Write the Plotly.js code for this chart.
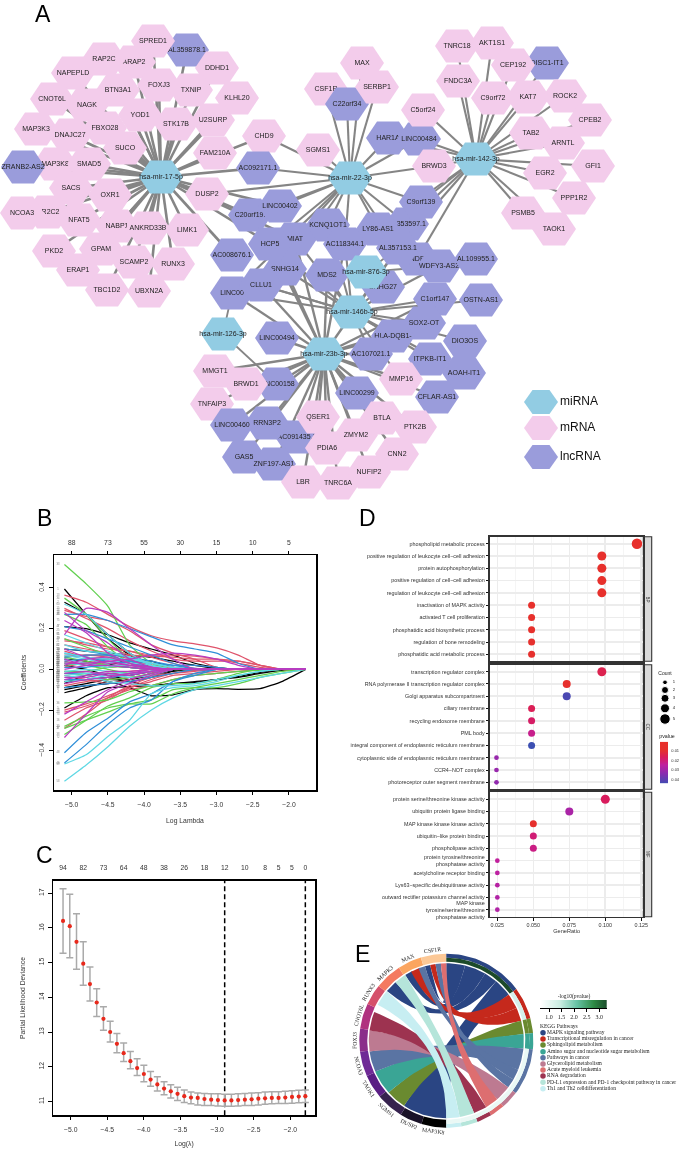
<!DOCTYPE html>
<html><head><meta charset="utf-8">
<script src="https://cdn.plot.ly/plotly-3.0.1.min.js"></script>
<style>html,body{margin:0;padding:0;background:#fff}#g{width:685px;height:1151px;filter:blur(0.3px)}</style>
</head><body><div id="g"></div>
<script>
/* ---------- A: network ---------- */
const nodeNames=["AL359878.1","ARAP2","RAP2C","NAPEPLD","SPRED1","DDHD1","FOXJ3","BTN3A1","TXNIP","KLHL20",
"CNOT6L","NAGK","YOD1","U2SURP","STK17B","MAP3K3","FBXO28","DNAJC27","SUCO","CHD9",
"FAM210A","MAP3K8","ZRANB2-AS2","SMAD5","SACS","OXR1","NR2C2","NCOA3","NFAT5","NABP1",
"ANKRD33B","LIMK1","DUSP2","PKD2","ERAP1","GPAM","TBC1D2","SCAMP2","UBXN2A","RUNX3",
"AC092171.1","SGMS1","CSF1R","C22orf34","MAX","SERBP1","HAR1A","LINC00484","C5orf24","BRWD3",
"C20orf19.","LINC00402","MIAT","KCNQ1OT1","SNHG14","HCP5","AC008676.1","LINC00xx","CLLU1","AL353597.1",
"C9orf139","LY86-AS1","AC118344.1","NDF","AL357153.1","WDFY3-AS2","AL109955.1","SNHG27","MDS2","C1orf147",
"OSTN-AS1","SOX2-OT","DIO3OS","HLA-DQB1-","AC107021.1","ITPKB-IT1","AOAH-IT1","CFLAR-AS1","MMP16","LINC00494",
"LINC00158","MMGT1","BRWD1","TNFAIP3","LINC00299","AC091435.1","RRN3P2","LINC00460","GAS5","ZNF197-AS1",
"QSER1","BTLA","PTK2B","PDIA6","ZMYM2","CNN2","TNRC6A","NUFIP2","LBR","TNRC18",
"AKT1S1","DISC1-IT1","CEP192","FNDC3A","C9orf72","KAT7","ROCK2","CPEB2","ARNTL","TAB2",
"GFI1","PPP1R2","EGR2","PSMB5","TAOK1","hsa-mir-17-5p","hsa-mir-22-3p","hsa-mir-142-3p","hsa-mir-876-3p","hsa-mir-146b-5p",
"hsa-mir-126-3p","hsa-mir-23b-3p"];
const nodeX=[187,134,104,73,153,217,159,118,191,237,
52,87,140,213,176,36,105,70,125,264,
215,55,23,89,71,110,48,22,79,117,
148,187,207,54,78,101,107,134,149,173,
258,318,326,347,362,377,388,419,423,434,
250,280,295,328,285,270,232,232,261,407,
421,378,345,417,398,439,476,383,327,435,
481,424,465,393,371,430,464,437,401,277,
277,215,246,212,357,297,267,232,244,274,
318,382,415,327,356,397,338,369,303,457,
492,547,513,458,493,528,565,590,563,531,
593,574,545,523,554,161,350,476,366,352,
223,324];
const nodeY=[50,62,59,73,41,68,85,90,90,98,
99,105,115,120,124,129,128,135,148,136,
153,164,167,164,188,195,212,213,220,226,
228,230,194,251,270,249,290,262,291,264,
168,150,89,104,63,87,138,139,110,166,
215,206,239,225,269,244,255,293,285,224,
202,229,244,259,248,266,259,287,275,299,
300,323,341,336,354,359,373,397,379,338,
384,371,384,404,393,437,423,425,457,464,
417,418,427,448,435,454,483,472,482,46,
43,63,65,81,98,97,96,120,143,133,
166,198,173,213,229,177,178,159,272,312,
334,354];
const nodeKind=["l","r","r","r","r","r","r","r","r","r",
"r","r","r","r","r","r","r","r","r","r",
"r","r","l","r","r","r","r","r","r","r",
"r","r","r","r","r","r","r","r","r","r",
"l","r","r","l","r","r","l","l","r","r",
"l","l","l","l","l","l","l","l","l","l",
"l","l","l","l","l","l","l","l","l","l",
"l","l","l","l","l","l","l","l","r","l",
"l","r","r","r","l","l","l","l","l","l",
"r","r","r","r","r","r","r","r","r","r",
"r","l","r","r","r","r","r","r","r","r",
"r","r","r","r","r","m","m","m","m","m",
"m","m"];
const targets17=["SPRED1","AL359878.1","RAP2C","ARAP2","DDHD1","NAPEPLD","BTN3A1","FOXJ3","TXNIP","KLHL20","CNOT6L","NAGK","YOD1","STK17B","U2SURP","MAP3K3","DNAJC27","FBXO28","SUCO","FAM210A","AC092171.1","ZRANB2-AS2","MAP3K8","SMAD5","SACS","OXR1","DUSP2","NCOA3","NR2C2","NFAT5","NABP1","ANKRD33B","LIMK1","PKD2","GPAM","SCAMP2","RUNX3","ERAP1","TBC1D2","UBXN2A","C20orf19.","AC008676.1","HCP5","LINC00402","MIAT","CHD9"];
const targets22=["CHD9","SGMS1","AC092171.1","CSF1R","C22orf34","SERBP1","MAX","HAR1A","LINC00484","BRWD3","C9orf139","DUSP2","LINC00402","C20orf19.","KCNQ1OT1","LY86-AS1","AL353597.1","AC118344.1","AL357153.1","MIAT","HCP5","SNHG14","LINC00xx"];
const targets142=["C5orf24","LINC00484","BRWD3","C9orf139","TNRC18","AKT1S1","CEP192","DISC1-IT1","FNDC3A","C9orf72","KAT7","ROCK2","CPEB2","TAB2","ARNTL","GFI1","EGR2","PPP1R2","PSMB5","TAOK1","AL357153.1","NDF","AL353597.1","LY86-AS1","HAR1A"];
const targets146=["MDS2","SNHG14","CLLU1","HCP5","MIAT","KCNQ1OT1","AC118344.1","AL357153.1","SNHG27","C1orf147","OSTN-AS1","SOX2-OT","HLA-DQB1-","DIO3OS","AC107021.1","ITPKB-IT1","AOAH-IT1","MMP16","WDFY3-AS2","CLLU1","LINC00xx"];
const targets23=["LINC00xx","CLLU1","SNHG14","MDS2","HCP5","MIAT","AC118344.1","LINC00494","MMGT1","BRWD1","LINC00158","TNFAIP3","LINC00299","QSER1","BTLA","PTK2B","LINC00460","RRN3P2","AC091435.1","ZMYM2","PDIA6","CNN2","GAS5","ZNF197-AS1","NUFIP2","LBR","TNRC6A","C1orf147","AC107021.1","MMP16","CFLAR-AS1","HLA-DQB1-","SOX2-OT","AL357153.1"];
const targets126=["LINC00xx","LINC00158"];
const targets876=["SNHG27","MDS2","AL357153.1","WDFY3-AS2"];
const netLegend=["miRNA","mRNA","lncRNA"];
const legendX=[541,541,541], legendY=[402,428,457];

/* ---------- B: coefficient paths ---------- */
const lamB=[-5.1,-4.8,-4.5,-4.2,-3.9,-3.6,-3.3,-3.0,-2.7,-2.4,-2.1,-1.77];
const coefBlack=[[.395,.27,.15,.07,.01],[.33,.27,.17,.08,.02],[.21,.20,.17,.13,.10,.07,.03,.01],[-.115,-.09,-.06,-.09,-.13,-.125,-.10,-.095,-.098,-.095,-.06,0],[-.19,-.13,-.09,-.085,-.08,-.07,-.065,-.05,-.04,-.02,-.005],[-.09,-.07,-.05,-.06,-.08,-.07,-.06,-.05,-.035,-.015],[-.07,-.03,-.02,-.03,-.01],[-.10,-.08,-.07,-.05,-.02,0],[.02,.0,-.03,-.05,-.03,-.005],[.1,.09,.08,.07,.06,.04,.02,.005],[-.06,-.05,-.04,-.06,-.04,-.01],[.05,.04,.02,.05,.04,.01]];
const coefRed=[[.365,.33,.27,.21,.165,.14,.125,.105,.07,.02],[.29,.26,.24,.19,.12,.08,.05,.01],[.30,.25,.20,.14,.09,.05,.04,.04,.04,.02],[-.25,-.19,-.15,-.09,-.05,-.02,-.005],[-.29,-.22,-.14,-.08,-.04,-.02],[-.20,-.17,-.13,-.09,-.06,-.03,-.02,-.01],[.15,.12,.10,.09,.07,.07,.065,.05,.03,.01],[.07,.07,.07,.07,.065,.06,.05,.05,.04,.02],[.14,.13,.11,.09,.06,.03,.005],[.12,.10,.08,.05,.02],[-.21,-.18,-.14,-.10,-.08,-.05,-.03,-.02,-.01],[-.08,-.06,-.05,-.04,-.03,-.02,-.01],[.19,.15,.11,.07,.03,.01],[.09,.06,.05,.04,.02],[.03,.03,.05,.04,.02,.01],[-.03,-.05,-.07,-.05,-.02],[.04,.02,.03,.03,.01],[-.01,-.02,-.02,-.01],[.06,.07,.06,.04,.02,.01],[.01,.03,.01,.02,.01]];
const coefGreen=[[.515,.42,.31,.12,.03],[.35,.27,.15,.05,.0],[.27,.22,.11,.03],[-.165,-.16,-.15,-.11,-.08,-.05,-.03,-.02,-.01,-.005],[-.29,-.25,-.21,-.17,-.15,-.10,-.09,-.09,-.07,-.04,-.02],[-.32,-.25,-.18,-.14,-.09,-.07,-.07,-.05,-.02],[-.28,-.23,-.19,-.17,-.17,-.12,-.09,-.07,-.05,-.03,-.01],[.15,.11,.07,.03,.0],[.03,.02,.0,-.02,-.01],[-.02,-.03,-.05,-.04,-.02],[.06,.04,.02,.01],[-.01,-.01,.01,.01],[.02,.03,.02,.01]];
const coefBlue=[[.27,.27,.24,.20,.16,.12,.10,.08,.03],[.21,.19,.15,.11,.07,.03],[-.41,-.31,-.24,-.16,-.12,-.06,-.02],[-.46,-.37,-.27,-.19,-.15,-.06,-.03],[.06,.07,.07,.06,.04,.02,.005],[-.05,-.05,-.04,-.03,-.01],[.04,.05,.05,.04,.03,.02,.02,.01],[-.09,-.08,-.07,-.06,-.04,-.02],[.10,.09,.07,.04,.01],[.01,.01,.02,.01],[-.02,-.02,-.03,-.02,-.01],[.08,.06,.04,.03,.01]];
const coefCyan=[[-.55,-.47,-.38,-.28,-.20,-.14,-.10,-.08,-.06,-.04,-.02],[-.465,-.42,-.33,-.25,-.12,-.09,-.08,-.06,-.03,-.01],[.32,.27,.17,.08,.02],[.12,.09,.08,.06,.03,.01],[.08,.06,.05,.05,.03,.01],[.03,.02,.02,.02,.01],[-.04,-.03,-.06,-.07,-.08,-.08,-.07,-.05,-.03,-.01],[.17,.13,.09,.06,.02],[-.03,-.02,-.02,-.04,-.03],[.05,.03,.01,.03,.02],[-.06,-.05,-.03,-.02,-.01],[.07,.05,.03,.05,.03,.01],[-.01,.0,-.01,-.02,-.01]];
const coefMagenta=[[.17,.30,.28,.20,.12,.05],[-.335,-.22,-.11,-.07,-.03],[-.22,-.16,-.10,-.05,-.02],[.03,.03,.04,.05,.07,.08,.07,.05,.02],[.24,.18,.08,.03],[.05,.02,.02,.01],[-.07,-.05,-.04,-.02,-.01],[.28,.19,.13,.05,.01],[.10,.06,.03,.02],[-.04,-.04,-.02,-.03,-.01],[.02,.05,.06,.03,.01],[-.02,-.01,-.03,-.02],[.0,.02,.04,.02,.01],[-.05,-.03,-.01,-.01]];
const topB=["88","73","55","30","15","10","5"], topBx=[-5,-4.5,-4,-3.5,-3,-2.5,-2];

/* ---------- C: cross-validation ---------- */
const cvLam=[-5.105,-5.013,-4.921,-4.829,-4.737,-4.645,-4.553,-4.461,-4.369,-4.277,-4.185,-4.093,-4.001,-3.909,-3.817,-3.725,-3.633,-3.541,-3.449,-3.357,-3.265,-3.173,-3.081,-2.989,-2.897,-2.805,-2.713,-2.621,-2.529,-2.437,-2.345,-2.253,-2.161,-2.069,-1.977,-1.885,-1.795];
const cvMean=[16.2,16.05,15.6,14.97,14.38,13.85,13.38,13.0,12.66,12.39,12.16,11.96,11.79,11.63,11.49,11.37,11.29,11.22,11.15,11.11,11.10,11.07,11.05,11.04,11.03,11.03,11.04,11.05,11.06,11.08,11.09,11.10,11.10,11.11,11.13,11.14,11.15];
const cvUp=[17.13,16.97,16.41,15.6,14.87,14.25,13.73,13.31,12.96,12.68,12.44,12.23,12.04,11.86,11.71,11.57,11.48,11.41,11.33,11.27,11.24,11.23,11.22,11.22,11.21,11.21,11.22,11.23,11.24,11.25,11.27,11.28,11.28,11.29,11.31,11.32,11.33];
const cvLow=[15.27,15.14,14.81,14.35,13.89,13.45,13.05,12.71,12.4,12.15,11.94,11.75,11.57,11.44,11.30,11.19,11.10,11.03,10.97,10.93,10.90,10.88,10.88,10.87,10.86,10.86,10.87,10.88,10.88,10.90,10.92,10.93,10.94,10.94,10.95,10.96,10.97];
const topC=["94","82","73","64","48","38","26","18","12","10","8","5","5","0"];
const topCidx=[0,3,6,9,12,15,18,21,24,27,30,32,34,36];
const lambdaLines=[-2.897,-1.795];

/* ---------- D: enrichment ---------- */
const bpTerms=["phospholipid metabolic process","positive regulation of leukocyte cell−cell adhesion","protein autophosphorylation","positive regulation of cell−cell adhesion","regulation of leukocyte cell−cell adhesion","inactivation of MAPK activity","activated T cell proliferation","phosphatidic acid biosynthetic process","regulation of bone remodeling","phosphatidic acid metabolic process"];
const bpRatio=[.122,.0976,.0976,.0976,.0976,.0488,.0488,.0488,.0488,.0488];
const bpCount=[5,4,4,4,4,2,2,2,2,2];
const bpP=[.006,.006,.006,.006,.006,.006,.006,.006,.007,.007];
const ccTerms=["transcription regulator complex","RNA polymerase II transcription regulator complex","Golgi apparatus subcompartment","ciliary membrane","recycling endosome membrane","PML body","integral component of endoplasmic reticulum membrane","cytoplasmic side of endoplasmic reticulum membrane","CCR4−NOT complex","photoreceptor outer segment membrane"];
const ccRatio=[.0976,.0732,.0732,.0488,.0488,.0488,.0488,.0244,.0244,.0244];
const ccCount=[4,3,3,2,2,2,2,1,1,1];
const ccP=[.014,.008,.042,.015,.017,.022,.044,.031,.031,.032];
const mfTerms=["protein serine/threonine kinase activity","ubiquitin protein ligase binding","MAP kinase kinase kinase activity","ubiquitin−like protein binding","phospholipase activity","protein tyrosine/threonine<br>phosphatase activity","acetylcholine receptor binding","Lys63−specific deubiquitinase activity","outward rectifier potassium channel activity","MAP kinase<br>tyrosine/serine/threonine<br>phosphatase activity"];
const mfRatio=[.1,.075,.05,.05,.05,.025,.025,.025,.025,.025];
const mfCount=[4,3,2,2,2,1,1,1,1,1];
const mfP=[.016,.028,.007,.019,.021,.024,.025,.026,.027,.027];
const countSize=[4.7,7,8,9,10.5];
const countLabels=["1","2","3","4","5"];
const pTicks=[.01,.02,.03,.04];
const pBar=[.001,.005,.01,.015,.02,.025,.03,.035,.04,.044];

/* ---------- E: chord ---------- */
const geneNames=["MAP3K8","DUSP2","SGMS1","TAOK1","NCOA3","FOXJ3","CNOT6L","RUNX3","MAPK3","MAX","CSF1R"];
const geneEdge=[180,196.6,211.6,230,246,262.7,278,295,309,327,343,360];
const geneColor=["#000000","#1a1228","#36224e","#5a1e84","#6f2a96","#8a2d8a","#b0327f","#d5506a","#f47a60","#fba55f","#fcc896"];
const pathNames=["MAPK signaling pathway","Transcriptional misregulation in cancer","Sphingolipid metabolism","Amino sugar and nucleotide sugar metabolism","Pathways in cancer","Glycerolipid metabolism","Acute myeloid leukemia","RNA degradation","PD-L1 expression and PD-1 checkpoint pathway in cancer","Th1 and Th2 celldifferentiation"];
const pathEdge=[0,53.6,75,85,95.7,127,139,149,159,170,180];
const pathColor=["#2a4583","#c5291c","#6a8a30","#3aa595","#5a74a3","#bd7a91","#dd6e70","#9d3350","#b5e5da","#c7eef2"];
const pathSig=["#1c4a2a","#d5f0ea","#6a8a30","#3aa595","#eaf8f5","#eaf8f5","#eaf8f5","#eaf8f5","#eaf8f5","#eaf8f5"];
/* gene arc start, gene arc end, pathway arc start, pathway arc end, pathway index */
const ribbons=[[180,213,40,53.6,0],[310,319,30,40,0],[344,348,0,14,0],[328,334,14,30,0],
[333,340,53.6,65,1],[348,352,65,75,1],[213,228,75,85,2],[228,246.5,85,95.7,3],
[246.5,262,95.7,112,4],[339,344,112,120,4],[352,356,120,127,4],[262,277.6,127,139,5],
[356,360,139,149,6],[277.6,291.7,149,159,7],[319,328,159,170,8],[297.6,309.6,170,180,9]];
const sigTicks=[1,1.5,2,2.5,3];
const sigBar=[.64,1,1.4,1.8,2.2,2.6,3,3.3];

/* ---------- styling ---------- */
const W=685,H=1151;
const SANS="Liberation Sans, Arial, sans-serif",SERIF="Liberation Serif, Times New Roman, serif";
const kindColor={m:"#92cce3",r:"#f3cceb",l:"#9a9cdb"};
const rPal={black:"#000000",red:"#df536b",green:"#61d04f",blue:"#2f8fd8",cyan:"#5fd8e4",magenta:"#b93cc0"};
const pScale=[[0,"#e9302a"],[.2,"#e5302e"],[.35,"#d91c5c"],[.55,"#c020a0"],[.75,"#8a2bb0"],[1,"#3c4fb2"]];
const sigScale=[[0,"#ffffff"],[.3,"#c8ece0"],[.55,"#66c2a4"],[.8,"#2e8b45"],[1,"#1c4a2a"]];
const dx=(a,b)=>[a/W,b/W], dy=(a,b)=>[1-b/H,1-a/H];
let data=[],ann=[],shapes=[];

const idx={};nodeNames.forEach((n,i)=>idx[n]=i);
function edges(hub,list,w){const xs=[],ys=[];list.forEach(t=>{xs.push(nodeX[idx[hub]],nodeX[idx[t]],null);ys.push(nodeY[idx[hub]],nodeY[idx[t]],null)});
 data.push({type:"scatter",mode:"lines",x:xs,y:ys,line:{color:"#858585",width:w},hoverinfo:"skip",xaxis:"x",yaxis:"y"});}
edges("hsa-mir-17-5p",targets17,2.6);edges("hsa-mir-22-3p",targets22,2.1);edges("hsa-mir-142-3p",targets142,2.1);
edges("hsa-mir-146b-5p",targets146,2.1);edges("hsa-mir-23b-3p",targets23,2.4);edges("hsa-mir-126-3p",targets126,1.8);edges("hsa-mir-876-3p",targets876,1.8);

function hex(cx,cy,w,h,color){const q=w/4;
 data.push({type:"scatter",mode:"lines",x:[cx-2*q,cx-q,cx+q,cx+2*q,cx+q,cx-q,cx-2*q],y:[cy,cy-h/2,cy-h/2,cy,cy+h/2,cy+h/2,cy],fill:"toself",fillcolor:color,line:{width:0,color:color},hoverinfo:"skip",xaxis:"x",yaxis:"y"});}
function label(x,y,t,size,color,font,pos){data.push({type:"scatter",mode:"text",x:[x],y:[y],text:[t],textposition:pos||"middle center",textfont:{size:size,color:color||"#222",family:font||SANS},hoverinfo:"skip",xaxis:"x",yaxis:"y",cliponaxis:false});}
nodeNames.forEach((n,i)=>{hex(nodeX[i],nodeY[i],44,33,kindColor[nodeKind[i]]);
 label(nodeX[i],nodeY[i],n.replace("LINC00xx","LINC00"),7,"#222");});
["m","r","l"].forEach((k,i)=>{hex(legendX[i],legendY[i],34,24,kindColor[k]);label(560,legendY[i],netLegend[i],12,"#111",SANS,"middle right");});

/* panel letters */
[["A",43,14],["B",44,518],["C",44,855],["D",367,518],["E",362,954]].forEach(p=>ann.push({xref:"x",yref:"y",x:p[1],y:p[2],text:p[0],showarrow:false,font:{size:23,family:SANS,color:"#000"}}));

/* B traces */
function pad(a){const o=a.slice();while(o.length<lamB.length)o.push(0);return o;}
let tinyN=1;
[["black",coefBlack],["red",coefRed],["green",coefGreen],["blue",coefBlue],["cyan",coefCyan],["magenta",coefMagenta]].forEach(g=>{g[1].forEach(s=>{
 data.push({type:"scatter",mode:"lines",x:lamB,y:pad(s),line:{color:rPal[g[0]],width:1.25,shape:"spline",smoothing:.5},hoverinfo:"skip",xaxis:"x2",yaxis:"y2"});
 data.push({type:"scatter",mode:"text",x:[-5.19],y:[s[0]],text:[String(tinyN++)],textfont:{size:2.6,color:"#777",family:SANS},hoverinfo:"skip",xaxis:"x2",yaxis:"y2"});
});});
data.push({type:"scatter",mode:"markers",x:topBx,y:topBx.map(()=>0),marker:{size:1,opacity:0},hoverinfo:"skip",xaxis:"x3",yaxis:"y2"});

/* C traces */
data.push({type:"scatter",mode:"lines",x:[lambdaLines[0],lambdaLines[0],null,lambdaLines[1],lambdaLines[1]],y:[10.6,17.36,null,10.6,17.36],line:{color:"#000",width:1.5,dash:"5px,3px"},hoverinfo:"skip",xaxis:"x4",yaxis:"y4"});
data.push({type:"scatter",mode:"markers",x:cvLam,y:cvMean,marker:{color:"#e8291c",size:4.2},
 error_y:{type:"data",symmetric:false,array:cvUp.map((u,i)=>u-cvMean[i]),arrayminus:cvLow.map((l,i)=>cvMean[i]-l),color:"#aaaaaa",thickness:1.5,width:3.5},hoverinfo:"skip",xaxis:"x4",yaxis:"y4"});
data.push({type:"scatter",mode:"markers",x:cvLam,y:cvMean,marker:{size:1,opacity:0},hoverinfo:"skip",xaxis:"x5",yaxis:"y4"});

/* D traces */
function dot(terms,ratio,count,p,ax,ay){data.push({type:"scatter",mode:"markers",x:ratio,y:terms,marker:{size:count.map(c=>countSize[c-1]),opacity:1,color:p,cmin:.0007,cmax:.044,colorscale:pScale,showscale:false,line:{width:0}},hoverinfo:"skip",xaxis:ax,yaxis:ay});}
dot(bpTerms,bpRatio,bpCount,bpP,"x6","y6");dot(ccTerms,ccRatio,ccCount,ccP,"x7","y7");dot(mfTerms,mfRatio,mfCount,mfP,"x8","y8");
[[536.7,661.3,"BP"],[664.7,789.3,"CC"],[792.3,916.7,"MF"]].forEach(s=>{
 shapes.push({type:"rect",xref:"x",yref:"y",x0:643.3,x1:651.7,y0:s[0],y1:s[1],fillcolor:"#d9d9d9",line:{color:"#333",width:1.1},layer:"below"});
 ann.push({xref:"x",yref:"y",x:647.5,y:(s[0]+s[1])/2,text:s[2],textangle:90,showarrow:false,font:{size:4.5,color:"#333",family:SANS}});});
label(665,673.7,"Count",5,"#222");
data.push({type:"scatter",mode:"markers",x:[665,665,665,665,665],y:[682.3,690,698.3,708.3,719],marker:{color:"#000",size:countSize,opacity:1},hoverinfo:"skip",xaxis:"x",yaxis:"y"});
[682.3,690,698.3,708.3,719].forEach((y,i)=>label(674,y,countLabels[i],4.2,"#222"));
label(667,737,"pvalue",5.3,"#222");
data.push({type:"heatmap",x:[0,1],y:pBar,z:pBar.map(v=>[v,v]),zmin:.0007,zmax:.044,colorscale:pScale,showscale:false,zsmooth:"best",hoverinfo:"skip",xaxis:"x9",yaxis:"y9"});

/* E traces */
const CX=446.3,CY=1040.7;
const pt=(deg,r)=>{const a=deg*Math.PI/180;return [CX+r*Math.sin(a),CY-r*Math.cos(a)];};
function poly(pts,color){data.push({type:"scatter",mode:"lines",x:pts.map(p=>p[0]),y:pts.map(p=>p[1]),fill:"toself",fillcolor:color,line:{width:0,color:color},hoverinfo:"skip",xaxis:"x",yaxis:"y"});}
function arc(a,b,r){const o=[],n=Math.max(4,Math.ceil(Math.abs(b-a)/2));for(let i=0;i<=n;i++)o.push(pt(a+(b-a)*i/n,r));return o;}
function sector(a,b,r0,r1,c){poly(arc(a,b,r1).concat(arc(b,a,r0)),c);}
function bez(p,q){const o=[];for(let i=1;i<24;i++){const t=i/24,u=1-t;o.push([u*u*p[0]+2*u*t*CX+t*t*q[0],u*u*p[1]+2*u*t*CY+t*t*q[1]]);}return o;}
const RR=77.5;
ribbons.forEach(rb=>{const A=arc(rb[0],rb[1],RR),B=arc(rb[2],rb[3],RR);
 poly(A.concat(bez(A[A.length-1],B[0]),B,bez(B[B.length-1],A[0])),pathColor[rb[4]]);});
geneNames.forEach((g,i)=>{const a=geneEdge[i],b=geneEdge[i+1],m=(a+b)/2;sector(a,b,79,87,geneColor[i]);
 const p=pt(m,91.5);ann.push({xref:"x",yref:"y",x:p[0],y:p[1],text:g,textangle:m<265?m-180:m-360,showarrow:false,font:{size:5.8,family:SERIF,color:"#222"}});});
pathNames.forEach((g,i)=>{sector(pathEdge[i],pathEdge[i+1],83,87,pathColor[i]);sector(pathEdge[i],pathEdge[i+1],79,83,pathSig[i]);
 const y=950+[248,267,285,305,323,342,360,378,397,416][i]/3;
 data.push({type:"scatter",mode:"markers",x:[543],y:[y],marker:{size:5.5,color:pathColor[i]},hoverinfo:"skip",xaxis:"x",yaxis:"y"});
 label(547,y,g,5.5,"#222",SERIF,"middle right");});
label(540,1026.7,"KEGG Pathways",5.5,"#222",SERIF,"middle right");
label(574,996.7,"-log10(pvalue)",5.5,"#222",SERIF);
data.push({type:"heatmap",x:sigBar,y:[0,1],z:[sigBar,sigBar],zmin:.64,zmax:3.3,colorscale:sigScale,showscale:false,zsmooth:"best",hoverinfo:"skip",xaxis:"x10",yaxis:"y10"});

/* axes */
const tk={family:SANS,size:6.8,color:"#333"};
function rAxis(dom,range,o){return Object.assign({domain:dom,range:range,showgrid:false,zeroline:false,showline:true,linecolor:"#000",linewidth:1.5,mirror:true,ticks:"outside",ticklen:3.5,tickcolor:"#000",tickwidth:1,tickfont:tk,fixedrange:true},o);}
function ggY(dom,terms){return {domain:dom,type:"category",categoryarray:terms,categoryorder:"array",range:[9.57,-.57],showgrid:true,gridcolor:"#ececec",gridwidth:1.6,zeroline:false,showline:true,mirror:true,linecolor:"#333",linewidth:1.6,ticks:"outside",ticklen:2.5,tickcolor:"#111",tickwidth:1,tickfont:{family:SANS,size:5.4,color:"#333"},ticklabelstandoff:0,fixedrange:true};}
function ggX(dom,anchor,show){return {domain:dom,anchor:anchor,range:[.0199,.1264],tick0:.025,dtick:.025,tickformat:".3f",showgrid:true,gridcolor:"#ececec",gridwidth:1.6,minor:{dtick:.0125,showgrid:true,gridcolor:"#f2f2f2",gridwidth:.8},zeroline:false,showline:true,mirror:true,linecolor:"#333",linewidth:1.6,ticks:show?"outside":"",ticklen:2.5,tickcolor:"#111",showticklabels:show,tickfont:{family:SANS,size:5.4,color:"#333"},fixedrange:true,title:show?{text:"GeneRatio",font:{family:SANS,size:5.6,color:"#333"},standoff:2}:undefined};}
const tb=dx(54,316),tc=dx(53.3,315),pd=dx(490,643.3);
const layout={width:W,height:H,margin:{l:0,r:0,t:0,b:0},paper_bgcolor:"#fff",plot_bgcolor:"rgba(0,0,0,0)",showlegend:false,shapes:shapes,annotations:ann,
 xaxis:{domain:[0,1],range:[0,W],visible:false,fixedrange:true},
 yaxis:{domain:[0,1],range:[H,0],visible:false,fixedrange:true},
 xaxis2:rAxis(tb,[-5.244,-1.627],{anchor:"y2",tickvals:[-5,-4.5,-4,-3.5,-3,-2.5,-2],ticktext:["−5.0","−4.5","−4.0","−3.5","−3.0","−2.5","−2.0"],ticklabelstandoff:4,title:{text:"Log Lambda",font:{family:SANS,size:6.8,color:"#333"},standoff:11}}),
 yaxis2:rAxis(dy(555,790),[-.593,.562],{anchor:"x2",tickvals:[-.4,-.2,0,.2,.4],ticktext:["−0.4","−0.2","0.0","0.2","0.4"],tickangle:-90,ticklabelstandoff:2,title:{text:"Coefficients",font:{family:SANS,size:6.8,color:"#333"},standoff:11}}),
 xaxis3:rAxis(tb,[-5.244,-1.627],{anchor:"y2",overlaying:"x2",side:"top",showline:false,mirror:false,tickvals:topBx,ticktext:topB,ticklabelstandoff:3}),
 xaxis4:rAxis(tc,[-5.238,-1.663],{anchor:"y4",tickvals:[-5,-4.5,-4,-3.5,-3,-2.5,-2],ticktext:["−5.0","−4.5","−4.0","−3.5","−3.0","−2.5","−2.0"],ticklabelstandoff:4,title:{text:"Log(λ)",font:{family:SANS,size:6.8,color:"#333"},standoff:9}}),
 yaxis4:rAxis(dy(880.7,1115.3),[10.6,17.36],{anchor:"x4",tickvals:[11,12,13,14,15,16,17],tickangle:-90,ticklabelstandoff:2,title:{text:"Partial Likelihood Deviance",font:{family:SANS,size:6.8,color:"#333"},standoff:11}}),
 xaxis5:rAxis(tc,[-5.238,-1.663],{anchor:"y4",overlaying:"x4",side:"top",showline:false,mirror:false,ticks:"",tickvals:topCidx.map(i=>cvLam[i]),ticktext:topC,ticklabelstandoff:8}),
 xaxis6:ggX(pd,"y6",false),yaxis6:Object.assign(ggY(dy(536.7,661.3),bpTerms),{anchor:"x6"}),
 xaxis7:ggX(pd,"y7",false),yaxis7:Object.assign(ggY(dy(664.7,789.3),ccTerms),{anchor:"x7"}),
 xaxis8:ggX(pd,"y8",true),yaxis8:Object.assign(ggY(dy(792.3,916.7),mfTerms),{anchor:"x8"}),
 xaxis9:{domain:dx(660,668.3),range:[0,1],visible:false,anchor:"y9",fixedrange:true},
 yaxis9:{domain:dy(741.7,783.3),range:[.044,.0007],anchor:"x9",side:"right",tickvals:pTicks,tickformat:".2f",ticks:"",showgrid:false,zeroline:false,tickfont:{family:SANS,size:4,color:"#333"},ticklabelstandoff:2,fixedrange:true},
 xaxis10:{domain:dx(540,606.7),range:[.64,3.3],anchor:"y10",tickvals:sigTicks,tickformat:".1f",ticks:"outside",ticklen:3,tickcolor:"#000",showline:true,linecolor:"#000",linewidth:1,showgrid:false,zeroline:false,tickfont:{family:SERIF,size:6,color:"#222"},fixedrange:true},
 yaxis10:{domain:dy(1000,1008),range:[0,1],visible:false,anchor:"x10",fixedrange:true}
};
Plotly.newPlot("g",data,layout,{displayModeBar:false,responsive:false,staticPlot:true});
</script></body></html>
